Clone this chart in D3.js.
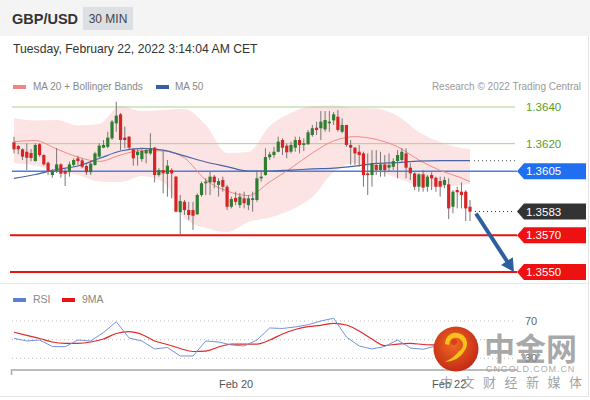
<!DOCTYPE html>
<html><head><meta charset="utf-8">
<script src="https://cdn.jsdelivr.net/npm/d3@7"></script>
<style>
body{margin:0;background:#fff;}
svg{display:block;font-family:"Liberation Sans",Arial,sans-serif;}
</style>
</head><body>
<svg id="c" width="590" height="400"></svg>
<script>
// ---------- DATA ----------
const symbol = "GBP/USD";
const timeframe = "30 MIN";
const dateText = "Tuesday, February 22, 2022 3:14:04 AM CET";
const credit = "Research \u00a9 2022 Trading Central";

const openP = [1.36207,1.36187,1.36169,1.36156,1.36149,1.36105,1.36197,1.36138,1.36096,1.36029,
1.36051,1.36087,1.36051,1.36047,1.36084,1.36120,1.36109,1.36078,1.36044,1.36084,
1.36129,1.36178,1.36183,1.36229,1.36311,1.36360,1.36233,1.36238,1.36169,1.36138,
1.36116,1.36147,1.36147,1.36178,1.36029,1.36056,1.36035,1.36056,1.36020,1.35826,
1.35883,1.35838,1.35838,1.35815,1.35920,1.35984,1.35989,1.36020,1.35975,1.36002,
1.35965,1.35856,1.35904,1.35865,1.35902,1.35865,1.35893,1.35893,1.36011,1.36029,
1.36126,1.36138,1.36156,1.36220,1.36189,1.36156,1.36178,1.36220,1.36193,1.36197,
1.36247,1.36287,1.36284,1.36278,1.36311,1.36327,1.36347,1.36265,1.36302,1.36193,
1.36178,1.36156,1.36147,1.36038,1.36029,1.36084,1.36056,1.36087,1.36069,1.36074,
1.36105,1.36111,1.36147,1.36069,1.36038,1.35965,1.36033,1.35965,1.36029,1.36014,
1.35996,1.35975,1.35978,1.35856,1.35947,1.35938,1.35938,1.35856];
const highP = [1.36238,1.36193,1.36175,1.36202,1.36171,1.36202,1.36202,1.36142,1.36102,1.36062,
1.36176,1.36093,1.36062,1.36102,1.36120,1.36134,1.36120,1.36087,1.36102,1.36156,
1.36202,1.36220,1.36265,1.36329,1.36429,1.36367,1.36293,1.36242,1.36175,1.36175,
1.36175,1.36175,1.36257,1.36183,1.36066,1.36165,1.36111,1.36066,1.36025,1.35920,
1.35893,1.35883,1.35883,1.35929,1.35993,1.36011,1.36047,1.36029,1.36011,1.36020,
1.35975,1.35911,1.35938,1.35931,1.35938,1.35920,1.35938,1.36056,1.36047,1.36175,
1.36156,1.36183,1.36238,1.36229,1.36202,1.36211,1.36238,1.36238,1.36229,1.36275,
1.36302,1.36320,1.36378,1.36378,1.36378,1.36373,1.36384,1.36338,1.36302,1.36220,
1.36183,1.36193,1.36156,1.36147,1.36165,1.36165,1.36156,1.36138,1.36147,1.36120,
1.36165,1.36175,1.36175,1.36093,1.36044,1.36038,1.36056,1.36029,1.36044,1.36020,
1.36020,1.36020,1.36011,1.35947,1.35965,1.35989,1.35947,1.35893];
const lowP = [1.36147,1.36142,1.36111,1.36056,1.36105,1.36102,1.36129,1.36080,1.36029,1.36014,
1.36040,1.36014,1.35969,1.36020,1.36074,1.36084,1.36066,1.36029,1.36029,1.36080,
1.36120,1.36175,1.36175,1.36220,1.36265,1.36165,1.36175,1.36171,1.36080,1.36080,
1.36102,1.36093,1.36138,1.35989,1.36020,1.35929,1.35911,1.35902,1.35826,1.35706,
1.35811,1.35784,1.35729,1.35811,1.35911,1.35920,1.35920,1.35957,1.35911,1.35938,
1.35838,1.35847,1.35865,1.35849,1.35847,1.35838,1.35829,1.35883,1.35993,1.36025,
1.36111,1.36123,1.36153,1.36138,1.36120,1.36147,1.36156,1.36147,1.36160,1.36193,
1.36238,1.36247,1.36220,1.36265,1.36265,1.36302,1.36265,1.36257,1.36183,1.36084,
1.36084,1.36074,1.35965,1.35920,1.35965,1.36029,1.36020,1.36020,1.36047,1.36056,
1.36011,1.36102,1.36011,1.36002,1.35947,1.35938,1.35938,1.35938,1.35947,1.35938,
1.35911,1.35957,1.35789,1.35820,1.35847,1.35847,1.35778,1.35778];
const closeP = [1.36169,1.36169,1.36129,1.36123,1.36122,1.36193,1.36138,1.36087,1.36051,1.36051,
1.36087,1.36036,1.36036,1.36087,1.36111,1.36105,1.36074,1.36044,1.36091,1.36147,
1.36189,1.36193,1.36233,1.36320,1.36353,1.36220,1.36220,1.36178,1.36120,1.36156,
1.36160,1.36165,1.36175,1.36029,1.36056,1.36038,1.36080,1.36038,1.35829,1.35887,
1.35838,1.35811,1.35807,1.35920,1.35984,1.35993,1.36020,1.35989,1.35996,1.35965,
1.35856,1.35898,1.35883,1.35911,1.35875,1.35902,1.35902,1.36011,1.36020,1.36127,
1.36142,1.36156,1.36211,1.36178,1.36153,1.36193,1.36220,1.36193,1.36202,1.36262,
1.36284,1.36275,1.36320,1.36329,1.36320,1.36360,1.36275,1.36302,1.36193,1.36178,
1.36147,1.36138,1.36029,1.36029,1.36093,1.36056,1.36087,1.36056,1.36084,1.36105,
1.36138,1.36156,1.36069,1.36038,1.35965,1.36033,1.35960,1.36020,1.36011,1.35965,
1.35965,1.36002,1.35847,1.35938,1.35935,1.35920,1.35847,1.35829];

// indicator samples (candle index -> value)
const bandIdx = [0,5,10,15,20,25,30,35,40,45,50,55,60,65,70,75,80,85,90,95,100,105,107];
const ma20 = [1.36211,1.36217,1.36171,1.36127,1.36103,1.36138,1.36163,1.36160,1.36122,1.36002,
1.35942,1.35917,1.35991,1.36067,1.36149,1.36215,1.36238,1.36223,1.36183,1.36111,1.36054,1.36013,1.35993];
const bbUpper = [1.36340,1.36326,1.36329,1.36299,1.36307,1.36405,1.36378,1.36384,1.36389,1.36302,
1.36149,1.36155,1.36296,1.36367,1.36405,1.36408,1.36395,1.36392,1.36351,1.36264,1.36209,1.36176,1.36171];
const bbLower = [1.36095,1.36081,1.36051,1.36029,1.35994,1.35991,1.36024,1.35991,1.35795,1.35740,
1.35718,1.35773,1.35797,1.35838,1.35909,1.36045,1.36095,1.36056,1.36013,1.35972,1.35964,1.35975,1.35980];
const ma50 = [1.36011,1.36032,1.36059,1.36078,1.36119,1.36160,1.36174,1.36165,1.36133,1.36100,
1.36075,1.36051,1.36051,1.36056,1.36062,1.36067,1.36078,1.36092,1.36097,1.36105,1.36107,1.36107,1.36107];

const rsiIdx = [0,3,6,9,12,15,18,21,24,27,30,33,36,39,42,45,48,51,54,57,60,63,66,69,72,75,78,81,84,87,90,93,96,99,102,105,107];
const rsi = [51.4,48.6,49.6,42.7,42.4,49.6,48.6,57.7,69.2,51.8,48.6,40.0,41.6,32.5,32.5,48.6,47.5,44.3,43.2,49.6,
62.5,62.0,63.6,66.0,70.0,72.9,52.8,43.2,40.0,42.7,49.6,41.0,39.7,43.2,41.0,36.8,34.6];
const rsiMA = [57.9,54.5,51.2,47.5,46.1,46.1,47.5,50.7,56.6,58.5,55.5,48.6,44.8,40.5,37.3,37.8,42.1,45.3,45.3,45.3,
49.6,56.1,60.9,63.9,65.4,67.5,65.7,59.3,50.7,43.7,45.3,45.9,44.8,44.3,43.7,42.1,41.0];
const rsiLevels = [70, 50, 30];
const rsiLabels = ["70", "30"];

const resistance = [1.3640, 1.3620];
const pivot = 1.3605;
const lastPrice = 1.3583;
const support = [1.3570, 1.3550];

const dateTickIdx = [52, 102];
const dateTickLabels = ["Feb 20", "Feb 22"];

// ---------- DRAW ----------
const svg = d3.select("#c");
const N = closeP.length;
const x = d3.scaleLinear().domain([0, N - 1]).range([14, 470]);
const y = d3.scaleLinear().domain([1.3550, 1.3640]).range([272, 107]);
const yR = d3.scaleLinear().domain([30, 70]).range([358.3, 321]);
const fmt = d3.format(".4f");

// header
svg.append("rect").attr("x",0).attr("y",0).attr("width",590).attr("height",36).attr("fill","#f4f4f4");
svg.append("text").attr("x",12).attr("y",24).attr("font-size",14.5).attr("font-weight","bold").attr("fill","#333").text(symbol);
svg.append("rect").attr("x",83).attr("y",7).attr("width",50).attr("height",23).attr("fill","#dcdfe4");
svg.append("text").attr("x",108).attr("y",23).attr("text-anchor","middle").attr("font-size",12).attr("fill","#444").text(timeframe);
svg.append("text").attr("x",13).attr("y",53).attr("font-size",12.2).attr("fill","#333").text(dateText);

// frame
svg.append("line").attr("x1",588.5).attr("x2",588.5).attr("y1",36).attr("y2",397).attr("stroke","#e4e4e4");
svg.append("line").attr("x1",0).attr("x2",589).attr("y1",396.5).attr("y2",396.5).attr("stroke","#e4e4e4");
svg.append("line").attr("x1",0).attr("x2",589).attr("y1",283.5).attr("y2",283.5).attr("stroke","#e8e8e8");

// legend
svg.append("rect").attr("x",13).attr("y",85).attr("width",13).attr("height",4).attr("fill","#f08585");
svg.append("text").attr("x",33).attr("y",90).attr("font-size",10).attr("fill","#888").text("MA 20 + Bollinger Bands");
svg.append("rect").attr("x",156).attr("y",85).attr("width",13).attr("height",4).attr("fill","#3a5fa0");
svg.append("text").attr("x",175).attr("y",90).attr("font-size",10).attr("fill","#888").text("MA 50");
svg.append("text").attr("x",581).attr("y",90).attr("text-anchor","end").attr("font-size",10).attr("fill","#9a9a9a").text(credit);

// bollinger band
const bandData = bandIdx.map((d,i)=>({i:d, u:bbUpper[i], l:bbLower[i], m:ma20[i], m50:ma50[i]}));
svg.append("path").datum(bandData)
  .attr("d", d3.area().x(d=>x(d.i)).y0(d=>y(d.l)).y1(d=>y(d.u)).curve(d3.curveMonotoneX))
  .attr("fill","#fde4e4");

// resistance lines
resistance.forEach(p=>{
  svg.append("line").attr("x1",12).attr("x2",515).attr("y1",y(p)).attr("y2",y(p)).attr("stroke","#a9d18e").attr("stroke-width",1);
  svg.append("text").attr("x",526).attr("y",y(p)+4).attr("font-size",11.5).attr("fill","#5c9e22").text(fmt(p));
});
// pivot line
svg.append("line").attr("x1",12).attr("x2",517).attr("y1",y(pivot)).attr("y2",y(pivot)).attr("stroke","#4a7fe0").attr("stroke-width",1.5);

// MA lines
svg.append("path").datum(bandData).attr("d", d3.line().x(d=>x(d.i)).y(d=>y(d.m)).curve(d3.curveMonotoneX))
  .attr("fill","none").attr("stroke","#f08a85").attr("stroke-width",1);
svg.append("path").datum(bandData).attr("d", d3.line().x(d=>x(d.i)).y(d=>y(d.m50)).curve(d3.curveMonotoneX))
  .attr("fill","none").attr("stroke","#4565a8").attr("stroke-width",1.2);
svg.append("line").attr("x1",x(N-1)+4).attr("x2",515).attr("y1",y(ma50[ma50.length-1])).attr("y2",y(ma50[ma50.length-1]))
  .attr("stroke","#555").attr("stroke-dasharray","1,3");

// candles
const candles = d3.range(N).map(i=>({i, o:openP[i], h:highP[i], l:lowP[i], c:closeP[i]}));
const cg = svg.append("g");
cg.selectAll("line").data(candles).join("line")
  .attr("x1",d=>x(d.i)).attr("x2",d=>x(d.i)).attr("y1",d=>y(d.h)).attr("y2",d=>y(d.l))
  .attr("stroke","#777").attr("stroke-width",1);
cg.selectAll("rect").data(candles).join("rect")
  .attr("x",d=>x(d.i)-1.6).attr("width",3.2)
  .attr("y",d=>y(Math.max(d.o,d.c))).attr("height",d=>Math.max(1.2, Math.abs(y(d.o)-y(d.c))))
  .attr("fill",d=>d.c>=d.o?"#2f7d32":"#d62424");

// support lines
support.forEach(p=>{
  svg.append("line").attr("x1",10).attr("x2",517).attr("y1",y(p)).attr("y2",y(p)).attr("stroke","#e81212").attr("stroke-width",2);
});

// last price dotted
svg.append("line").attr("x1",x(N-1)+5).attr("x2",515).attr("y1",y(lastPrice)).attr("y2",y(lastPrice))
  .attr("stroke","#333").attr("stroke-dasharray","1,3");

// label tags
function tag(p, color){
  const yc = y(p);
  svg.append("path").attr("d",`M517,${yc} L524,${yc-8} L586,${yc-8} L586,${yc+8} L524,${yc+8} Z`).attr("fill",color);
  svg.append("text").attr("x",526).attr("y",yc+4).attr("font-size",11.5).attr("fill","#fff").text(fmt(p));
}
tag(pivot, "#1f6ff0");
tag(lastPrice, "#333333");
support.forEach(p=>tag(p, "#ee1111"));

// arrow
{
  const x0 = x(N-1)+6, y0 = y(lastPrice)+2, x1 = 514, y1 = y(support[1]);
  const dx = x1-x0, dy = y1-y0, L = Math.hypot(dx,dy), ux = dx/L, uy = dy/L;
  const bx = x1-13*ux, by = y1-13*uy;
  svg.append("line").attr("x1",x0).attr("y1",y0).attr("x2",bx+2*ux).attr("y2",by+2*uy)
    .attr("stroke","#2d5f9f").attr("stroke-width",4);
  svg.append("path").attr("d",`M${x1},${y1} L${bx-7*uy},${by+7*ux} L${bx+7*uy},${by-7*ux} Z`).attr("fill","#2d5f9f");
}

// RSI panel
svg.append("rect").attr("x",13).attr("y",298).attr("width",13).attr("height",4).attr("fill","#5b7fd6");
svg.append("text").attr("x",33).attr("y",303).attr("font-size",10.5).attr("fill","#888").text("RSI");
svg.append("rect").attr("x",62).attr("y",298).attr("width",13).attr("height",4).attr("fill","#ee1111");
svg.append("text").attr("x",82).attr("y",303).attr("font-size",10.5).attr("fill","#888").text("9MA");

rsiLevels.forEach(v=>{
  svg.append("line").attr("x1",12).attr("x2",515).attr("y1",yR(v)).attr("y2",yR(v))
    .attr("stroke","#bdbdbd").attr("stroke-dasharray","1,3");
});
svg.append("text").attr("x",525).attr("y",yR(70)+4).attr("font-size",11).attr("fill","#666").text(rsiLabels[0]);
svg.append("text").attr("x",525).attr("y",yR(30)+4).attr("font-size",11).attr("fill","#666").text(rsiLabels[1]);

const rsiData = rsiIdx.map((d,i)=>({i:d, r:rsi[i], m:rsiMA[i]}));
svg.append("path").datum(rsiData).attr("d", d3.line().x(d=>x(d.i)).y(d=>yR(d.m)).curve(d3.curveMonotoneX))
  .attr("fill","none").attr("stroke","#e22a2a").attr("stroke-width",1.2);
svg.append("path").datum(rsiData).attr("d", d3.line().x(d=>x(d.i)).y(d=>yR(d.r)))
  .attr("fill","none").attr("stroke","#7592dc").attr("stroke-width",1);

// date axis
const ax = svg.append("g").attr("transform","translate(0,370)")
  .call(d3.axisBottom(x).tickValues(dateTickIdx).tickFormat((d,i)=>dateTickLabels[i]).tickSize(0).tickPadding(10));
ax.select(".domain").remove();
ax.selectAll("text").attr("font-size",11).attr("fill","#555").attr("font-family","Liberation Sans, Arial, sans-serif");
svg.append("path").attr("d","M11.5,375 V370 H517").attr("fill","none").attr("stroke","#a8a8a8").attr("stroke-width",1.5);

// watermark
const defs = svg.append("defs");
const rg = defs.append("radialGradient").attr("id","lg").attr("cx","45%").attr("cy","40%").attr("r","60%");
rg.append("stop").attr("offset","0%").attr("stop-color","#f06a22");
rg.append("stop").attr("offset","100%").attr("stop-color","#c42a16");
const wm = svg.append("g");
wm.append("circle").attr("cx",456).attr("cy",349).attr("r",22.5).attr("fill","url(#lg)");
wm.append("path").attr("d","M449,345 a7,7 0 1 1 10,6 q-4,6 -14,11 q14,-1 20,-12 a11,11 0 1 0 -20,-6 z")
  .attr("fill","#f7c21a");
wm.append("circle").attr("cx",454).attr("cy",342).attr("r",3).attr("fill","#d8401a");
wm.append("text").attr("x",484).attr("y",360).attr("font-size",31).attr("font-weight","bold")
  .attr("font-family","Noto Sans CJK SC").attr("fill","#8c8c8c").attr("fill-opacity",0.75).text("中金网");
wm.append("text").attr("x",486).attr("y",372).attr("font-size",9).attr("letter-spacing",0.9)
  .attr("fill","#9a9a9a").attr("fill-opacity",0.85).text("CNGOLD.COM.CN");
wm.append("text").attr("x",440).attr("y",387).attr("font-size",13).attr("letter-spacing",8.5)
  .attr("font-family","Noto Sans CJK SC").attr("fill","#8a8a8a").attr("fill-opacity",0.8).text("中文财经新媒体");
</script>
</body></html>
